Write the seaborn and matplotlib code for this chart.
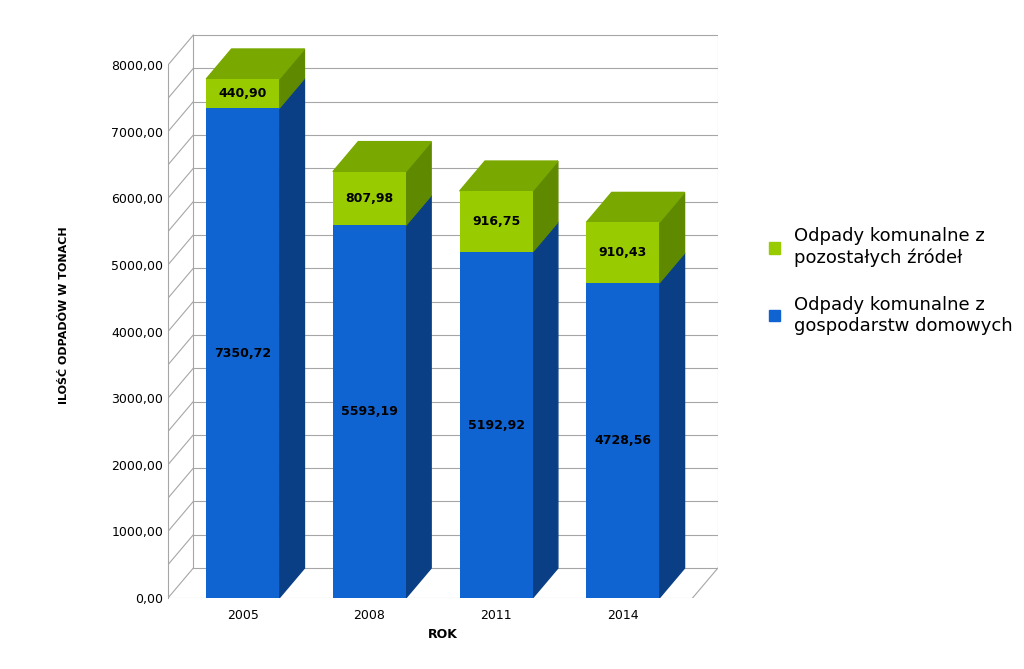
import matplotlib
matplotlib.use("Agg")
import matplotlib.pyplot as plt
from matplotlib.patches import Polygon, Patch
import seaborn as sns
import pandas as pd

years = ["2005", "2008", "2011", "2014"]
households = [7350.72, 5593.19, 5192.92, 4728.56]
others = [440.90, 807.98, 916.75, 910.43]
labels = ["Odpady komunalne z\ngospodarstw domowych", "Odpady komunalne z\npozostałych źródeł"]

blue, blue_side, blue_top = "#0f64d2", "#0a3f86", "#0c55b4"
green, green_side, green_top = "#99cc00", "#5f8a00", "#79a800"

df = pd.DataFrame({"rok": years, "dom": households, "poz": others})
df["total"] = df["dom"] + df["poz"]

fig = plt.figure(figsize=(10.24, 6.69), dpi=100)
ax = fig.add_axes([0.164, 0.106, 0.537, 0.846])
dx, dy = 0.2, 450
x0, x1 = -0.59, 3.55

sns.barplot(data=df, x="rok", y="total", color=green, width=0.575, saturation=1, ax=ax, zorder=2)
sns.barplot(data=df, x="rok", y="dom", color=blue, width=0.575, saturation=1, ax=ax, zorder=3)
ax.set_xlim(x0, x1 + dx)
ax.set_ylim(0, 8495)

for v in range(0, 8001, 500):
    ax.plot([x0 + dx, x1 + dx], [v + dy, v + dy], color="#a6a6a6", lw=0.8, zorder=0)
    ax.plot([x0, x0 + dx], [v, v + dy], color="#a6a6a6", lw=0.8, zorder=0)
ax.plot([x0 + dx, x0 + dx], [dy, 8000 + dy], color="#a6a6a6", lw=0.8, zorder=0)
ax.plot([x1 + dx, x1 + dx], [dy, 8000 + dy], color="#a6a6a6", lw=0.8, zorder=0)
ax.plot([x1, x1 + dx], [0, dy], color="#a6a6a6", lw=0.8, zorder=0)
ax.plot([x0, x1], [0, 0], color="#a6a6a6", lw=0.8, zorder=0)

for i, p in enumerate(ax.patches[:4]):
    L, R = p.get_x(), p.get_x() + p.get_width()
    b, t = households[i], households[i] + others[i]
    ax.add_patch(Polygon([(R, 0), (R + dx, dy), (R + dx, b + dy), (R, b)], color=blue_side, zorder=1.5))
    ax.add_patch(Polygon([(R, b), (R + dx, b + dy), (R + dx, t + dy), (R, t)], color=green_side, zorder=1.5))
    ax.add_patch(Polygon([(L, t), (L + dx, t + dy), (R + dx, t + dy), (R, t)], color=green_top, zorder=1.5))
    c = (L + R) / 2
    ax.text(c, b / 2, f"{households[i]:.2f}".replace(".", ","), ha="center", va="center", fontsize=9, fontweight="bold", zorder=5)
    ax.text(c, b + others[i] / 2, f"{others[i]:.2f}".replace(".", ","), ha="center", va="center", fontsize=9, fontweight="bold", zorder=5)

ax.set_yticks(range(0, 8001, 1000))
ax.set_yticklabels([f"{v},00" for v in range(0, 8001, 1000)], fontsize=9)
ax.tick_params(axis="both", length=0)
ax.tick_params(axis="x", labelsize=9, pad=8)
for s in ["top", "right", "bottom"]:
    ax.spines[s].set_visible(False)
ax.spines["left"].set_color("#a6a6a6")
ax.spines["left"].set_bounds(0, 8000)
ax.set_xlabel("ROK", fontsize=9, fontweight="bold")
ax.set_ylabel("ILOŚĆ ODPADÓW W TONACH", fontsize=8, fontweight="bold", labelpad=30)

h = [Patch(color=green, label=labels[1]), Patch(color=blue, label=labels[0])]
fig.legend(handles=h, loc="center left", bbox_to_anchor=(0.735, 0.58), frameon=False,
           fontsize=13, handlelength=0.6, handleheight=0.6, labelspacing=1.6)
fig.savefig("out.png", dpi=100)
